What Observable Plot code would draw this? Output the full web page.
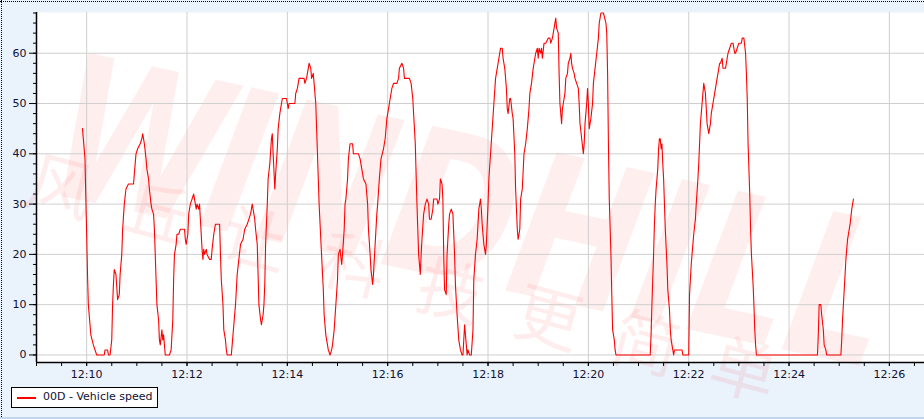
<!DOCTYPE html>
<html>
<head>
<meta charset="utf-8">
<script src="https://cdn.jsdelivr.net/npm/d3@7"></script>
<script src="https://cdn.jsdelivr.net/npm/@observablehq/plot@0.6"></script>
<style>
  html, body { margin: 0; padding: 0; }
  body { width: 924px; height: 419px; background: #eaf2fb; position: relative; overflow: hidden; font-family: "DejaVu Sans", sans-serif; }
  #chart { position: absolute; left: 0; top: 0; }
  .dot-top { position: absolute; left: 0; top: 1px; width: 924px; border-top: 1px dotted #000; }
  .dot-left { position: absolute; left: 1px; top: 0; height: 419px; border-left: 1px dotted #000; }
  .bottom-line { position: absolute; left: 0; top: 417px; width: 924px; height: 2px; background: #c3d6ee; }
  #legend { position: absolute; left: 11px; top: 387px; width: 145px; height: 19px; border: 1px solid #000; background: #fff; }
  #legend .sw { position: absolute; left: 5px; top: 9px; width: 19px; height: 2px; background: #ff0000; }
  #legend .lbl { position: absolute; left: 31px; top: 2px; font-size: 11px; color: #111133; white-space: nowrap; }
</style>
</head>
<body>
<div id="chart"></div>
<div class="dot-top"></div>
<div class="dot-left"></div>
<div class="bottom-line"></div>
<div id="legend"><div class="sw"></div><div class="lbl"></div></div>
<script>
// ---- data (seconds after 12:10:00, vehicle speed) ----
const seriesName = "00D - Vehicle speed";
const secondsAfter1210 = [
  -5,-4,-2,-1,0,1,2,4,5,8,12,21,22,25,26,28,30,31,32,33,35,37,39,40,42,43,45,47,50,56,57,58,59,61,64,66,67,69,71,72,74,75,77,78,80,81,83,84,86,87,88,90,91,92,93,94,99,
  101,103,104,105,107,108,110,112,117,118,119,121,122,124,126,128,130,131,132,134,135,136,138,139,140,141,143,144,147,149,150,152,154,159,160,161,163,164,166,167,168,173,174,176,178,180,182,184,187,189,192,194,196,198,199,
  201,202,204,205,206,208,209,211,212,213,214,216,217,219,221,222,223,225,226,228,229,231,233,234,239,240,241,242,249,250,252,254,260,261,263,264,266,268,269,271,272,274,276,277,278,280,283,284,286,289,291,293,294,296,298,
  300,301,303,305,306,308,309,310,312,313,315,318,319,325,327,329,331,334,336,337,339,340,342,343,345,347,348,350,352,355,357,359,361,363,365,367,371,373,374,377,379,380,386,388,390,391,393,394,395,396,397,399,
  400,401,403,405,407,409,410,412,414,415,419,420,422,423,425,426,427,428,430,431,433,434,436,438,440,441,443,445,447,449,450,452,454,455,456,458,460,462,463,465,467,469,471,472,473,475,477,478,480,481,483,485,487,489,491,493,495,497,498,
  500,502,503,504,506,507,509,510,512,513,515,516,518,519,521,523,525,527,529,530,532,534,536,537,539,540,541,543,544,545,547,549,552,554,555,557,559,561,562,564,565,566,568,569,570,572,573,575,576,578,579,580,581,583,584,586,588,589,590,592,594,595,596,598,599,
  600,601,603,605,606,608,610,612,613,615,618,621,622,623,624,625,627,628,629,631,632,633,674,675,676,677,678,679,680,681,683,684,685,686,687,688,689,690,691,692,694,695,697,698,699,
  701,702,703,712,713,720,721,723,724,726,728,729,731,732,733,734,736,738,739,740,742,744,746,747,749,751,752,754,755,757,758,760,761,764,766,767,769,771,773,775,776,778,780,781,783,784,786,788,789,790,791,793,794,795,797,798,799,
  800,801,874,875,876,878,879,881,882,884,885,902,903,904,906,908,910,911,913,915,917
];
const speedValues = [
  45,43,39,31,24,16,10,6,4,2,0,0,1,1,0,0,3,10,14,17,16,11,12,16,20,25,30,33,34,34,36,38,40,41,42,43,44,42,39,37,35,33,30,29,28,25,15,10,7,3,2,5,3,4,2,0,0,
  1,7,15,20,22,24,24,25,25,23,22,24,28,30,31,32,30,29,30,29,30,27,21,19,21,20,21,20,19,19,21,24,26,26,20,15,10,5,3,1,0,0,2,6,10,16,19,22,23,25,26,27,28,30,29,
  27,25,22,16,10,7,6,8,10,14,22,30,35,38,43,44,40,33,36,41,45,48,50,51,51,50,49,50,50,52,53,55,55,54,55,56,58,57,55,56,54,50,40,35,30,23,13,8,4,1,0,1,2,5,10,
  15,20,21,18,20,25,30,31,35,39,42,42,40,40,39,37,35,34,30,25,20,17,14,16,22,28,30,35,39,41,43,47,49,51,53,54,54,55,57,58,57,55,55,54,51,48,42,36,30,25,20,16,
  20,23,28,30,31,30,27,27,29,31,31,30,31,35,34,31,20,13,12,20,26,28,29,28,20,14,8,3,1,0,0,6,2,0,1,0,0,5,15,20,23,29,31,29,26,22,20,22,30,35,40,45,50,55,57,59,61,61,59,
  57,53,49,48,51,51,48,47,40,33,25,23,25,31,33,40,42,45,49,52,54,57,59,60,61,59,61,60,61,59,62,62,63,63,62,63,65,67,65,64,56,50,46,49,50,52,55,56,58,59,60,58,57,56,55,54,53,50,46,43,40,42,46,50,53,
  50,45,47,50,54,57,60,63,66,68,68,66,64,56,42,31,20,12,5,3,1,0,0,4,10,15,20,26,30,33,37,41,43,43,41,42,38,35,30,25,18,13,9,5,3,
  1,0,1,1,0,0,12,18,20,24,27,30,35,38,42,46,50,54,53,52,46,44,46,48,50,52,53,55,56,58,58,59,57,57,59,60,61,62,62,60,60,61,62,62,62,63,63,60,56,51,42,32,25,20,14,10,5,
  2,0,0,4,10,10,8,5,2,1,0,0,3,7,13,19,23,24,26,29,31
];
const xTickLabels = ["12:10","12:12","12:14","12:16","12:18","12:20","12:22","12:24","12:26"];
const yTickValues = [0,10,20,30,40,50,60];
const xStart = "12:09:00";
const xEnd = "12:26:42";
const yMin = -1.5, yMax = 68.1;
const watermarkLatin = "WINDHILL";
const watermarkCJK = "风丘让科技更简单";

// ---- build ----
const day = Date.UTC(2024, 0, 1);
const clock = s => { const [h, m, sec] = s.split(":").map(Number); return new Date(day + ((h * 60 + m) * 60 + (sec || 0)) * 1000); };
const base = clock("12:10:00");
const data = secondsAfter1210.map((s, i) => ({ t: new Date(+base + s * 1000), v: speedValues[i] }));
const x0 = clock(xStart), x1 = clock(xEnd);
const xMajor = xTickLabels.map(clock);
const xMinor = d3.utcSecond.every(30).range(x0, new Date(+x1 + 1));
const yMinor = d3.range(0, 69, 2);

const plot = Plot.plot({
  width: 924, height: 419,
  marginLeft: 36, marginRight: 0, marginTop: 12, marginBottom: 57,
  style: { background: "transparent", fontFamily: "DejaVu Sans, sans-serif", fontSize: "11px", color: "#111133" },
  x: { type: "utc", domain: [x0, x1] },
  y: { domain: [yMin, yMax] },
  marks: [
    Plot.frame({ fill: "white", stroke: null }),
    Plot.gridX(xMajor, { stroke: "#cfcfcf", strokeOpacity: 1 }),
    Plot.gridY(yTickValues, { stroke: "#cfcfcf", strokeOpacity: 1 }),
    Plot.line(data, { x: "t", y: "v", stroke: "#ff0000", strokeWidth: 1.1 }),
    Plot.ruleY([yMin], { stroke: "#000", strokeWidth: 1.5 }),
    Plot.ruleX([x0], { stroke: "#000", strokeWidth: 1.5 }),
    Plot.axisX(xMajor, { tickSize: 4, tickPadding: 4, tickFormat: d3.utcFormat("%H:%M"), label: null, stroke: "#000", fill: "#111133" }),
    Plot.axisX(xMinor, { tickSize: 4, text: null, label: null, stroke: "#000" }),
    Plot.axisY(yTickValues, { tickSize: 7, tickPadding: 3, label: null, stroke: "#000", fill: "#111133" }),
    Plot.axisY(yMinor, { tickSize: 3, text: null, label: null, stroke: "#000" })
  ]
});
document.getElementById("chart").appendChild(plot);
document.querySelector("#legend .lbl").textContent = seriesName;

// faint watermark behind the line, one glyph per text element
const frame = plot.querySelector('[aria-label="frame"]');
const wm = document.createElementNS("http://www.w3.org/2000/svg", "g");
frame.after(wm);
const g = d3.select(wm).attr("pointer-events", "none");

// Latin word along a 12° baseline
{
  const fs = 200, sx = 0.766, ang = 12 * Math.PI / 180;
  const adv = { W: 1.03, I: 0.372, N: 0.837, D: 0.83, H: 0.837, L: 0.637 };
  let along = 0;
  for (const ch of watermarkLatin) {
    const px = 42 + along * Math.cos(ang), py = 192 + along * Math.sin(ang);
    g.append("text")
      .attr("text-anchor", "start")
      .attr("transform", `translate(${px.toFixed(1)},${py.toFixed(1)}) rotate(12) scale(${sx},1)`)
      .attr("font-family", "DejaVu Sans")
      .attr("font-weight", "bold")
      .attr("font-style", "italic")
      .attr("font-size", fs)
      .attr("fill", "#ff0000")
      .attr("fill-opacity", 0.065)
      .text(ch);
    along += adv[ch] * fs * sx;
  }
}
// CJK phrase along a 15° baseline
{
  const ang = 15 * Math.PI / 180, step = 101;
  [...watermarkCJK].forEach((ch, i) => {
    const cx = 62 + i * step * Math.cos(ang), cy = 182 + i * step * Math.sin(ang);
    g.append("text")
      .attr("text-anchor", "middle")
      .attr("dominant-baseline", "central")
      .attr("transform", `translate(${cx.toFixed(1)},${cy.toFixed(1)}) rotate(15)`)
      .attr("font-family", "Noto Sans CJK SC")
      .attr("font-size", 66)
      .attr("fill", "#ff0000")
      .attr("fill-opacity", 0.07)
      .text(ch);
  });
}
</script>
</body>
</html>
